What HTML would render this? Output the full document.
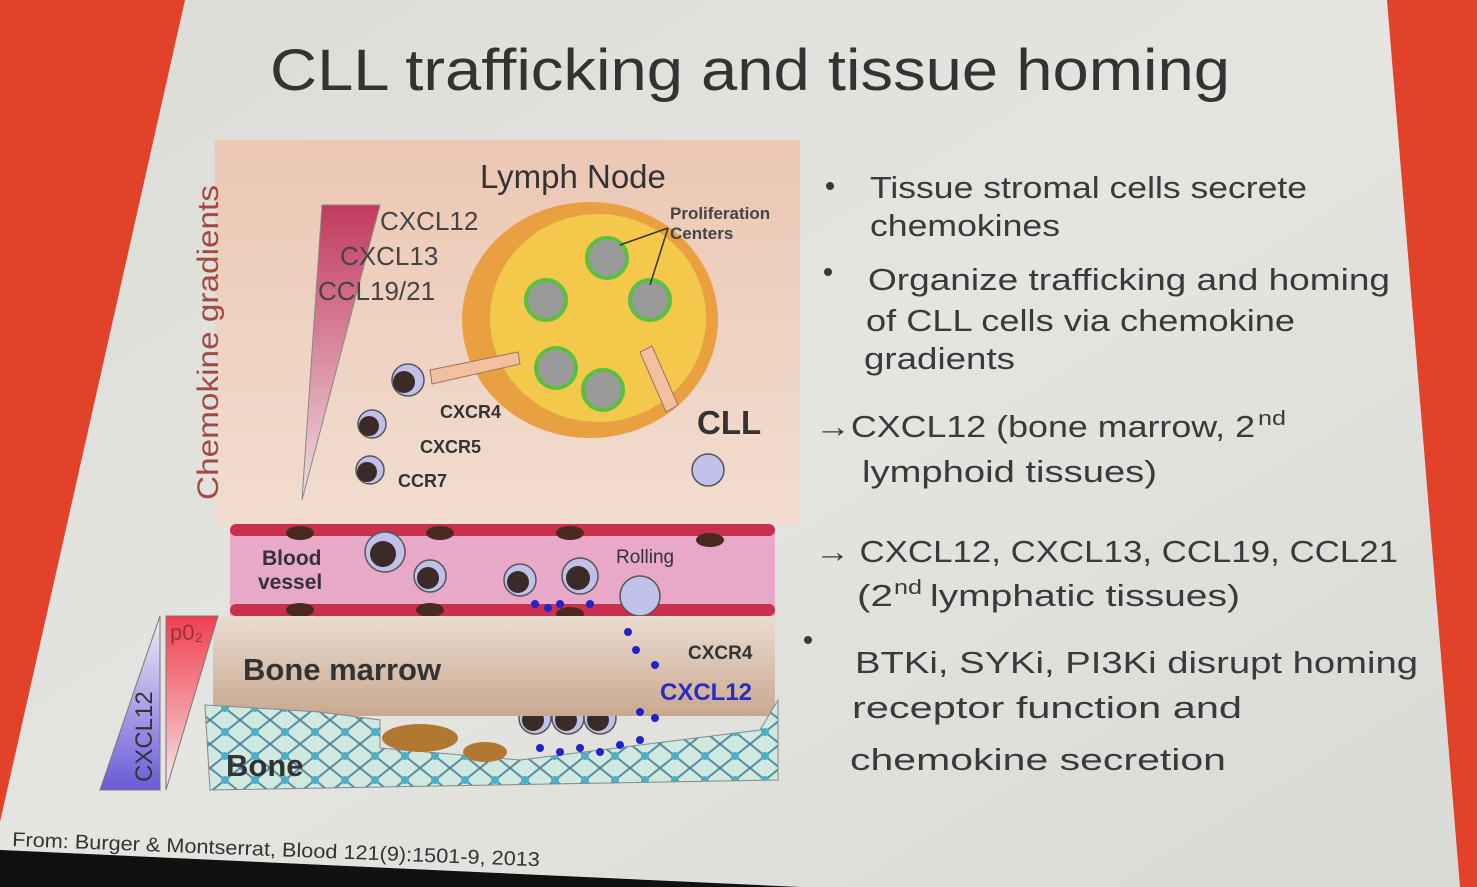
<!DOCTYPE html>
<html><head><meta charset="utf-8"><style>
html,body{margin:0;padding:0;width:1477px;height:887px;overflow:hidden;background:#e2412a}
svg{display:block}
text{font-family:"Liberation Sans",sans-serif}
</style></head><body>
<svg width="1477" height="887" viewBox="0 0 1477 887" xmlns="http://www.w3.org/2000/svg">
<defs>
<linearGradient id="sl" x1="0" y1="0" x2="1" y2="1"><stop offset="0" stop-color="#dcdcd6"/><stop offset="0.5" stop-color="#e4e5e1"/><stop offset="1" stop-color="#d8dad6"/></linearGradient>
<linearGradient id="peach" x1="0" y1="0" x2="0" y2="1"><stop offset="0" stop-color="#ecc7b4"/><stop offset="1" stop-color="#f1ddd0"/></linearGradient>
<linearGradient id="tri" x1="0" y1="0" x2="0" y2="1"><stop offset="0" stop-color="#c23a60"/><stop offset="1" stop-color="#f0dce0"/></linearGradient>
<linearGradient id="blue" x1="0" y1="1" x2="0" y2="0"><stop offset="0" stop-color="#6a5ad8"/><stop offset="1" stop-color="#f0eef5"/></linearGradient>
<linearGradient id="red" x1="0" y1="0" x2="0" y2="1"><stop offset="0" stop-color="#f04050"/><stop offset="0.6" stop-color="#f4a0a8"/><stop offset="1" stop-color="#f0eef0"/></linearGradient>
<linearGradient id="bm" x1="0" y1="0" x2="0" y2="1"><stop offset="0" stop-color="#eadcd0"/><stop offset="1" stop-color="#c9a890"/></linearGradient>
<pattern id="bone" width="30" height="24" patternUnits="userSpaceOnUse"><rect width="30" height="24" fill="#cfe8e0"/><path d="M0 0L30 24M30 0L0 24" stroke="#5a8aa0" stroke-width="2"/><circle cx="15" cy="12" r="4" fill="#4ab0c8"/></pattern>
</defs>
<polygon points="185,0 1387,0 1460,887 790,887 0,850 0,822" fill="url(#sl)"/>
<polygon points="0,850 800,887 0,887" fill="#111"/>

<text x="270" y="90" font-size="58" fill="#333" textLength="960" lengthAdjust="spacingAndGlyphs">CLL trafficking and tissue homing</text>

<rect x="215" y="140" width="585" height="385" fill="url(#peach)"/>
<text x="480" y="188" font-size="33" fill="#333">Lymph Node</text>
<text transform="translate(218,500) rotate(-90)" font-size="30" fill="#a5483f" textLength="315" lengthAdjust="spacingAndGlyphs">Chemokine gradients</text>
<polygon points="322,205 380,205 302,500" fill="url(#tri)" stroke="#888"/>
<text x="380" y="230" font-size="26" fill="#444">CXCL12</text>
<text x="340" y="265" font-size="26" fill="#444">CXCL13</text>
<text x="318" y="300" font-size="26" fill="#444">CCL19/21</text>

<ellipse cx="590" cy="320" rx="128" ry="118" fill="#e8a040"/>
<ellipse cx="598" cy="318" rx="108" ry="104" fill="#f4c84a"/>
<g fill="#9a9a9a" stroke="#5ac040" stroke-width="4">
<circle cx="607" cy="258" r="20"/><circle cx="546" cy="300" r="20"/><circle cx="650" cy="300" r="20"/>
<circle cx="556" cy="368" r="20"/><circle cx="603" cy="390" r="20"/></g>
<text x="670" y="219" font-size="17" font-weight="bold" fill="#444">Proliferation</text>
<text x="670" y="239" font-size="17" font-weight="bold" fill="#444">Centers</text>
<path d="M668 228L650 285M668 228L620 245" stroke="#333" stroke-width="1.5"/>
<polygon points="430,370 518,352 520,364 432,384" fill="#f0c0a0" stroke="#a07060"/>
<polygon points="640,352 652,346 678,405 666,412" fill="#f0c0a0" stroke="#a07060"/>

<g fill="#c0c0e8" stroke="#555" stroke-width="1.5">
<circle cx="408" cy="380" r="16"/><circle cx="372" cy="424" r="14"/><circle cx="370" cy="470" r="14"/><circle cx="708" cy="470" r="16"/></g>
<g fill="#3a2a28"><circle cx="404" cy="382" r="11"/><circle cx="369" cy="426" r="10"/><circle cx="367" cy="472" r="10"/></g>
<text x="440" y="418" font-size="18" font-weight="bold" fill="#333">CXCR4</text>
<text x="420" y="453" font-size="18" font-weight="bold" fill="#333">CXCR5</text>
<text x="398" y="487" font-size="18" font-weight="bold" fill="#333">CCR7</text>
<text x="697" y="434" font-size="33" font-weight="bold" fill="#333">CLL</text>

<rect x="230" y="528" width="545" height="88" fill="#e8a8c8"/>
<g fill="#c8304e"><rect x="230" y="524" width="545" height="12" rx="6"/><rect x="230" y="604" width="545" height="12" rx="6"/></g>
<g fill="#4a2a20"><ellipse cx="300" cy="533" rx="14" ry="7"/><ellipse cx="440" cy="533" rx="14" ry="7"/><ellipse cx="570" cy="533" rx="14" ry="7"/><ellipse cx="710" cy="540" rx="14" ry="7"/>
<ellipse cx="300" cy="610" rx="14" ry="7"/><ellipse cx="430" cy="610" rx="14" ry="7"/><ellipse cx="570" cy="614" rx="14" ry="7"/></g>
<g fill="#c0c0e8" stroke="#555" stroke-width="1.5"><circle cx="385" cy="552" r="20"/><circle cx="430" cy="576" r="16"/><circle cx="520" cy="580" r="16"/><circle cx="580" cy="576" r="18"/><circle cx="640" cy="596" r="20"/><circle cx="645" cy="686" r="16"/><circle cx="535" cy="718" r="16"/><circle cx="568" cy="718" r="16"/><circle cx="600" cy="718" r="16"/></g>
<g fill="#3a2a28"><circle cx="383" cy="554" r="13"/><circle cx="428" cy="578" r="11"/><circle cx="518" cy="582" r="11"/><circle cx="578" cy="578" r="12"/><circle cx="642" cy="688" r="11"/><circle cx="533" cy="720" r="11"/><circle cx="566" cy="720" r="11"/><circle cx="598" cy="720" r="11"/></g>
<text x="262" y="565" font-size="21" font-weight="bold" fill="#333">Blood</text>
<text x="258" y="589" font-size="21" font-weight="bold" fill="#333">vessel</text>
<text x="616" y="563" font-size="19" fill="#333">Rolling</text>

<rect x="213" y="616" width="562" height="100" fill="url(#bm)"/>
<text x="243" y="680" font-size="31" font-weight="bold" fill="#333">Bone marrow</text>
<text x="688" y="659" font-size="19" font-weight="bold" fill="#333">CXCR4</text>
<text x="660" y="700" font-size="24" font-weight="bold" fill="#2b2bc0">CXCL12</text>
<path d="M205 705L320 712L380 720L380 748L520 760L760 730L778 700L778 780L210 790Z" fill="url(#bone)" stroke="#888"/>
<ellipse cx="420" cy="738" rx="38" ry="14" fill="#b07830"/>
<ellipse cx="485" cy="752" rx="22" ry="10" fill="#b07830"/>
<g fill="#2222c8"><circle cx="535" cy="604" r="4"/><circle cx="548" cy="608" r="4"/><circle cx="560" cy="604" r="4"/><circle cx="590" cy="604" r="4"/><circle cx="628" cy="632" r="4"/><circle cx="636" cy="650" r="4"/><circle cx="655" cy="665" r="4"/><circle cx="640" cy="712" r="4"/><circle cx="655" cy="718" r="4"/><circle cx="540" cy="748" r="4"/><circle cx="560" cy="752" r="4"/><circle cx="580" cy="748" r="4"/><circle cx="600" cy="752" r="4"/><circle cx="620" cy="745" r="4"/><circle cx="640" cy="740" r="4"/></g>
<text x="226" y="776" font-size="31" font-weight="bold" fill="#333">Bone</text>

<polygon points="100,790 160,616 160,790" fill="url(#blue)" stroke="#777"/>
<polygon points="166,616 218,616 166,790" fill="url(#red)" stroke="#777"/>
<text transform="translate(152,782) rotate(-90)" font-size="24" fill="#333">CXCL12</text>
<text x="170" y="640" font-size="22" fill="#a03040">p0₂</text>

<g fill="#3a3a3a">
<circle cx="830" cy="186" r="4"/><circle cx="828" cy="272" r="4"/><circle cx="808" cy="640" r="4"/>
</g>
<g font-size="31" fill="#3a3a3a">
<text x="870" y="198" textLength="437" lengthAdjust="spacingAndGlyphs">Tissue stromal cells secrete</text>
<text x="870" y="236" textLength="190" lengthAdjust="spacingAndGlyphs">chemokines</text>
<text x="868" y="290" textLength="522" lengthAdjust="spacingAndGlyphs">Organize trafficking and homing</text>
<text x="866" y="331" textLength="429" lengthAdjust="spacingAndGlyphs">of CLL cells via chemokine</text>
<text x="864" y="369" textLength="151" lengthAdjust="spacingAndGlyphs">gradients</text>
<text x="815" y="437" textLength="440" lengthAdjust="spacingAndGlyphs">→CXCL12 (bone marrow, 2</text>
<text x="1258" y="425" font-size="20" textLength="28" lengthAdjust="spacingAndGlyphs">nd</text>
<text x="862" y="482" textLength="295" lengthAdjust="spacingAndGlyphs">lymphoid tissues)</text>
<text x="815" y="562" textLength="583" lengthAdjust="spacingAndGlyphs">→ CXCL12, CXCL13, CCL19, CCL21</text>
<text x="857" y="606" textLength="36" lengthAdjust="spacingAndGlyphs">(2</text>
<text x="894" y="594" font-size="20" textLength="28" lengthAdjust="spacingAndGlyphs">nd</text>
<text x="930" y="606" textLength="310" lengthAdjust="spacingAndGlyphs">lymphatic tissues)</text>
<text x="855" y="673" textLength="563" lengthAdjust="spacingAndGlyphs">BTKi, SYKi, PI3Ki disrupt homing</text>
<text x="852" y="718" textLength="390" lengthAdjust="spacingAndGlyphs">receptor function and</text>
<text x="850" y="770" textLength="376" lengthAdjust="spacingAndGlyphs">chemokine secretion</text>
</g>
<text transform="translate(12,846) rotate(2.2)" font-size="20" fill="#333" textLength="528" lengthAdjust="spacingAndGlyphs">From: Burger &amp; Montserrat, Blood 121(9):1501-9, 2013</text>
</svg>
</body></html>
